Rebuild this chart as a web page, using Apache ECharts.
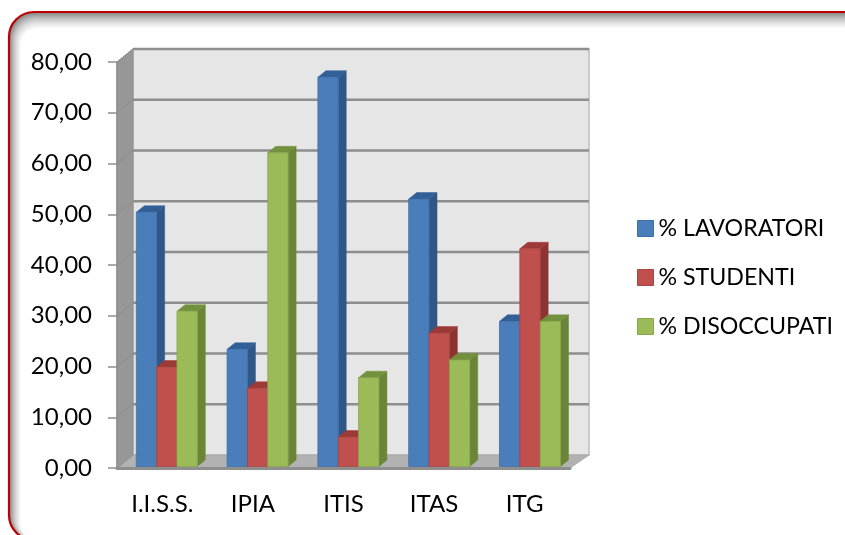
<!DOCTYPE html>
<html><head><meta charset="utf-8">
<style>html,body{margin:0;padding:0;background:#fff}#c{width:845px;height:535px}</style>
<script src="https://cdn.jsdelivr.net/npm/echarts@6/dist/echarts.min.js"></script>
</head><body><div id="c"></div>
<script>
const categories = ['I.I.S.S.', 'IPIA', 'ITIS', 'ITAS', 'ITG'];
const lavoratori = [50.1, 23.1, 76.7, 52.7, 28.6];
const studenti = [19.6, 15.4, 5.8, 26.3, 42.9];
const disoccupati = [30.6, 61.8, 17.5, 21.0, 28.6];
const seriesNames = ['% LAVORATORI', '% STUDENTI', '% DISOCCUPATI'];
const yMax = 80, yStep = 10;
const yTicks = [0, 10, 20, 30, 40, 50, 60, 70, 80];

const FONT = 'Lato, "Open Sans", sans-serif';
const front = ['#4a7ebb', '#c0504d', '#9bbb59'];
const side = ['#2f5788', '#8c3431', '#6b8538'];
const topFace = ['#315f96', '#9c3a37', '#73903c'];
const edge = ['#3f6fa8', '#a94542', '#88a64c'];
const shadeSteps = ['#858585', '#8f8f8f', '#999999', '#a3a3a3', '#adadad', '#b6b6b6', '#bfbfbf', '#c7c7c7', '#cfcfcf', '#d6d6d6', '#dddddd', '#e3e3e3', '#e9e9e9', '#eeeeee', '#f3f3f3', '#f8f8f8', '#ffffff'];
const GRID = { left: 117, right: 275, top: 62, bottom: 67 };
const DEPTH_L = 16, DEPTH_R = 19, DEPTH_Y = 13;
const BAR_DX = 8, BAR_DY = 6.5;

function poly(points, fill, stroke, lw) {
  return { type: 'polygon', shape: { points }, style: { fill, stroke: stroke || fill, lineWidth: lw || 0.5 } };
}
function frameElements() {
  const els = shadeSteps.map((c, k) => ({
    type: 'rect', z: -20 + k, silent: true,
    shape: { x: 9 + k * 0.72, y: 12 + k, width: 900 - k, height: 528 - k, r: Math.max(25 - k * 0.5, 8) },
    style: { fill: c, stroke: c, lineWidth: 0 }
  }));
  els.push({ type: 'rect', z: -2, silent: true, shape: { x: 9, y: 12, width: 900, height: 528, r: 25 },
    style: { fill: 'transparent', stroke: '#c00000', lineWidth: 2.2 } });
  return els;
}
function wallsItem(params, api) {
  const first = api.coord([0, 0]), size = api.size([1, 0])[0];
  const x0 = first[0] - size / 2, x1 = x0 + size * categories.length;
  const y0 = api.coord([0, 0])[1], yT = api.coord([0, yMax])[1];
  const bL = x0 + DEPTH_L, bR = x1 + DEPTH_R;
  const children = [
    poly([[bL, yT - DEPTH_Y], [bR, yT - DEPTH_Y], [bR, y0 - DEPTH_Y], [bL, y0 - DEPTH_Y]], '#e6e6e6', '#bdbdbd', 1.5),
    poly([[x0, yT], [bL, yT - DEPTH_Y], [bL, y0 - DEPTH_Y], [x0, y0]], '#979797', '#8f8f8f', 1),
    poly([[x0, y0], [bL, y0 - DEPTH_Y], [bR, y0 - DEPTH_Y], [x1, y0]], '#b2b2b2', '#a9a9a9', 1)
  ];
  yTicks.forEach(t => {
    const y = api.coord([0, t])[1];
    if (t > 0) {
      children.push({ type: 'line', shape: { x1: bL, y1: y - DEPTH_Y, x2: bR, y2: y - DEPTH_Y },
        style: { stroke: '#8e8e8e', lineWidth: 2.5 } });
    }
    children.push({ type: 'line', shape: { x1: x0, y1: y, x2: bL, y2: y - DEPTH_Y },
      style: { stroke: '#8e8e8e', lineWidth: 1 } });
  });
  return { type: 'group', children };
}
function barRender(idx) {
  return function (params, api) {
    const p = api.coord([api.value(0), api.value(1)]);
    const base = api.coord([api.value(0), 0]);
    const cw = api.size([1, 0])[0];
    const w = cw * 0.2245;
    const center = p[0] + 4.5 + params.dataIndex * 0.2;
    const l = center + (idx - 1.5) * w, r = l + w;
    const b = base[1] - 1.5, t = p[1] - 1.5;
    return { type: 'group', children: [
      poly([[r, t], [r + BAR_DX, t - BAR_DY], [r + BAR_DX, b - BAR_DY], [r, b]], side[idx]),
      poly([[l, t], [l + BAR_DX, t - BAR_DY], [r + BAR_DX, t - BAR_DY], [r, t]], topFace[idx]),
      { type: 'rect', shape: { x: l, y: t, width: w, height: b - t },
        style: { fill: front[idx], stroke: edge[idx], lineWidth: 0.8 } }
    ] };
  };
}
function rows(values) { return values.map((v, i) => [i, v]); }

const chart = echarts.init(document.getElementById('c'), null, { renderer: 'canvas' });
chart.setOption({
  animation: false,
  backgroundColor: '#fff',
  textStyle: { fontFamily: FONT },
  graphic: { elements: frameElements() },
  grid: GRID,
  legend: {
    left: 637, top: 217, orient: 'vertical', itemWidth: 16, itemHeight: 16, itemGap: 26,
    icon: 'rect',
    data: seriesNames.map((n, i) => ({ name: n, itemStyle: { color: front[i], borderColor: edge[i], borderWidth: 1 } })),
    textStyle: { fontFamily: FONT, fontSize: 23.2, color: '#000' },
    padding: 0, selectedMode: false
  },
  xAxis: {
    type: 'category', data: categories, z: 3, offset: 1.5,
    axisLine: { lineStyle: { color: '#8e8e8e', width: 3 } },
    axisTick: { length: 8, alignWithLabel: false, lineStyle: { color: '#8e8e8e', width: 1.5 } },
    axisLabel: { fontFamily: FONT, fontSize: 24, color: '#000', margin: 23 }
  },
  yAxis: {
    type: 'value', min: 0, max: yMax, interval: yStep, z: 3,
    splitLine: { show: false },
    axisLine: { show: true, lineStyle: { color: '#8e8e8e', width: 1.5 } },
    axisTick: { show: true, length: 9, lineStyle: { color: '#8e8e8e', width: 1.5 } },
    axisLabel: { fontFamily: FONT, fontSize: 24, color: '#000', margin: 25,
      formatter: v => v.toFixed(2).replace('.', ',') }
  },
  series: [
    { type: 'custom', name: 'walls', z: 1, clip: false, silent: true, renderItem: wallsItem, data: [[0, 0]], encode: { x: 0, y: 1 } },
    ...[lavoratori, studenti, disoccupati].map((vals, i) => ({
      type: 'custom', name: seriesNames[i], z: 2 + i, clip: false,
      itemStyle: { color: front[i] },
      renderItem: barRender(i), data: rows(vals), encode: { x: 0, y: 1 }
    }))
  ]
});
</script></body></html>
